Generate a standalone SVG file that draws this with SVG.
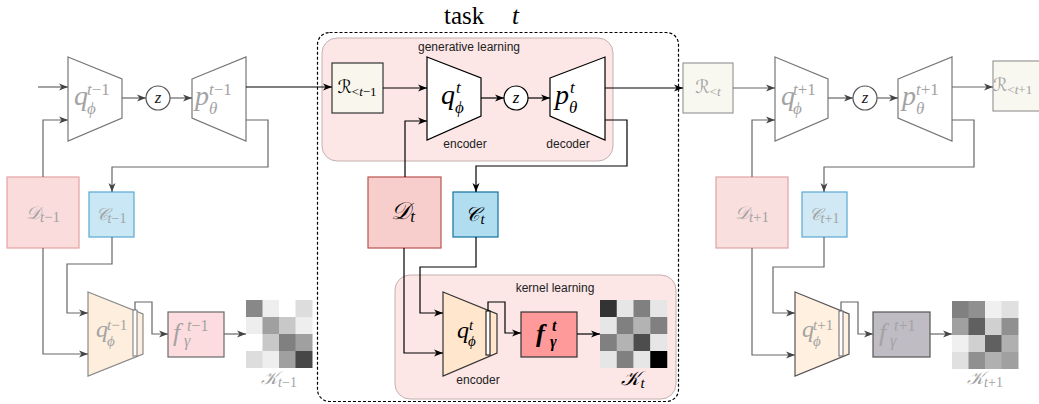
<svg xmlns="http://www.w3.org/2000/svg" width="1039" height="404" viewBox="0 0 1039 404">
<style>
.m{font-family:"Liberation Serif","DejaVu Serif","DejaVu Sans",serif;font-style:italic}
.r{font-family:"Liberation Serif","DejaVu Serif",serif;font-style:normal}
.lbl{font-family:"Liberation Sans",Arial,sans-serif;font-size:12px;fill:#222}
.fd{fill:#a3a3a3}
.bk{fill:#000}
.cb{fill:none;stroke:#000;stroke-width:1.2;marker-end:url(#ab)}
.cg{fill:none;stroke:#666;stroke-width:1.2;marker-end:url(#ag)}
.tw{fill:#fff;stroke:#000;stroke-width:1.2}
.tg{fill:#fff;stroke:#777;stroke-width:1.2}
</style>
<defs>
<marker id="ab" markerUnits="userSpaceOnUse" markerWidth="10" markerHeight="8" refX="9" refY="4" orient="auto"><path d="M0,0.5 L9,4 L0,7.5 L2.5,4 Z" fill="#000"/></marker>
<marker id="ag" markerUnits="userSpaceOnUse" markerWidth="10" markerHeight="8" refX="9" refY="4" orient="auto"><path d="M0,0.5 L9,4 L0,7.5 L2.5,4 Z" fill="#444"/></marker>
</defs>
<rect width="1039" height="404" fill="#fff"/>

<g id="task">
<rect x="317.5" y="32.5" width="361" height="369" rx="12" fill="none" stroke="#000" stroke-width="1.2" stroke-dasharray="3,2"/>
<text class="r" font-size="25"><tspan x="444" y="24">task</tspan><tspan x="512" y="24" class="m">t</tspan></text>
</g>
<g id="generative">
<rect x="322" y="38" width="291" height="123" rx="15" fill="#fce6e6" stroke="#c4b0b0" stroke-width="1"/>
<text x="469" y="51" class="lbl" text-anchor="middle">generative learning</text>
</g>
<g id="kernel">
<rect x="395" y="275" width="281" height="124" rx="15" fill="#fce6e6" stroke="#c4b0b0" stroke-width="1"/>
<text x="555" y="292" class="lbl" text-anchor="middle">kernel learning</text>
</g>

<!-- left faded -->
<g id="enc_l">
<polygon points="68,57 122,79 122,118 68,141" class="tg"/>
<text class="m fd" font-size="28"><tspan x="74" y="105">q</tspan><tspan x="87" y="95" font-size="17">t</tspan><tspan font-size="17" class="r">−1</tspan><tspan x="87" y="114" font-size="17">ϕ</tspan></text>
</g>
<g id="z_l"><circle cx="158" cy="98" r="12" fill="#fff" stroke="#555" stroke-width="1.2"/><text x="158" y="103" class="m" font-size="17" text-anchor="middle" fill="#222">z</text></g>
<g id="dec_l">
<polygon points="192,79 246,57 246,141 192,118" class="tg"/>
<text class="m fd" font-size="28"><tspan x="195" y="105">p</tspan><tspan x="209" y="95" font-size="17">t</tspan><tspan font-size="17" class="r">−1</tspan><tspan x="209" y="114" font-size="17">θ</tspan></text>
</g>
<g id="D_l">
<rect x="7" y="177" width="72" height="71" fill="#fadcdc" stroke="#e3a3a1" stroke-width="1.2"/>
<text x="43" y="219" class="m fd" font-size="18" text-anchor="middle">𝒟<tspan font-size="15" dy="3">t</tspan><tspan font-size="15" class="r">−1</tspan></text>
</g>
<g id="C_l">
<rect x="89" y="192" width="45" height="45" fill="#c9e7f5" stroke="#5aa9d2" stroke-width="1.2"/>
<text x="111" y="220" class="m fd" font-size="17" text-anchor="middle">𝒞<tspan font-size="14" dy="3">t</tspan><tspan font-size="14" class="r">−1</tspan></text>
</g>
<g id="kenc_l">
<polygon points="88,292 143,314 143,354 88,376" fill="#fdeedd" stroke="#8a8a8a" stroke-width="1.2"/>
<rect x="133" y="310" width="4" height="46" fill="#fff" stroke="#777" stroke-width="1"/>
<text class="m fd" font-size="24"><tspan x="96" y="337">q</tspan><tspan x="107" y="330" font-size="15">t</tspan><tspan font-size="15" class="r">−1</tspan><tspan x="107" y="346" font-size="15">ϕ</tspan></text>
</g>
<g id="f_l">
<rect x="168" y="312" width="56" height="45" fill="#fddcdf" stroke="#6a6a6a" stroke-width="1.2"/>
<text class="m fd" font-size="26"><tspan x="173" y="341">f</tspan><tspan x="187" y="331" font-size="16">t</tspan><tspan font-size="16" class="r">−1</tspan><tspan x="184" y="346" font-size="16">γ</tspan></text>
</g>
<g id="K_l">
<g transform="translate(246,300)">
<rect x="0" y="0" width="17" height="17" fill="#888"/><rect x="16.5" y="0" width="17" height="17" fill="#eee"/><rect x="33" y="0" width="17" height="17" fill="#fff"/><rect x="49.5" y="0" width="17" height="17" fill="#ddd"/>
<rect x="0" y="17" width="17" height="17" fill="#eee"/><rect x="16.5" y="17" width="17" height="17" fill="#a0a0a0"/><rect x="33" y="17" width="17" height="17" fill="#c8c8c8"/><rect x="49.5" y="17" width="17" height="17" fill="#eee"/>
<rect x="0" y="34" width="17" height="17" fill="#fff"/><rect x="16.5" y="34" width="17" height="17" fill="#c8c8c8"/><rect x="33" y="34" width="17" height="17" fill="#808080"/><rect x="49.5" y="34" width="17" height="17" fill="#a0a0a0"/>
<rect x="0" y="51" width="17" height="17" fill="#ddd"/><rect x="16.5" y="51" width="17" height="17" fill="#eee"/><rect x="33" y="51" width="17" height="17" fill="#a0a0a0"/><rect x="49.5" y="51" width="17" height="17" fill="#474747"/>
</g>
<text x="279" y="384" class="m fd" font-size="18" text-anchor="middle">𝒦<tspan font-size="14" dy="3">t</tspan><tspan font-size="14" class="r">−1</tspan></text>
</g>

<!-- center -->
<g id="R_prev">
<rect x="332" y="63" width="51" height="50" fill="#f9f7ed" stroke="#333" stroke-width="1.2"/>
<text x="357" y="93" class="m bk" font-size="18" text-anchor="middle">ℛ<tspan font-size="13" class="r" dy="3">&lt;</tspan><tspan font-size="13">t</tspan><tspan font-size="13" class="r">−1</tspan></text>
</g>
<g id="enc">
<polygon points="427,57 481,78 481,116 427,140" class="tw"/>
<text class="m bk" font-size="28"><tspan x="441" y="104">q</tspan><tspan x="456" y="93" font-size="17">t</tspan><tspan x="455" y="113" font-size="17">ϕ</tspan></text>
<text x="465" y="148" class="lbl" text-anchor="middle">encoder</text>
</g>
<g id="z"><circle cx="516" cy="98" r="12" fill="#fff" stroke="#000" stroke-width="1.2"/><text x="516" y="103" class="m" font-size="17" text-anchor="middle">z</text></g>
<g id="dec">
<polygon points="550,78 605,57 605,140 550,116" class="tw"/>
<text class="m bk" font-size="28"><tspan x="555" y="104">p</tspan><tspan x="570" y="93" font-size="17">t</tspan><tspan x="569" y="113" font-size="17">θ</tspan></text>
<text x="568" y="148" class="lbl" text-anchor="middle">decoder</text>
</g>
<g id="D">
<rect x="368" y="177" width="73" height="71" fill="#f8cecc" stroke="#b85450" stroke-width="1.2"/>
<text x="403" y="219" class="m bk" font-size="24" text-anchor="middle">𝒟<tspan font-size="17" dy="3">t</tspan></text>
</g>
<g id="C">
<rect x="453" y="192" width="45" height="45" fill="#b1ddf0" stroke="#10739e" stroke-width="1.2"/>
<text x="475" y="221" class="m bk" font-size="20" text-anchor="middle">𝒞<tspan font-size="15" dy="3">t</tspan></text>
</g>
<g id="kenc">
<polygon points="443,292 497,314 497,353 443,376" fill="#ffe6cc" stroke="#333" stroke-width="1.2"/>
<rect x="486" y="311" width="4" height="44" fill="#fff" stroke="#000" stroke-width="1"/>
<text class="m bk" font-size="24"><tspan x="457" y="338">q</tspan><tspan x="469" y="330" font-size="15">t</tspan><tspan x="468" y="346" font-size="15">ϕ</tspan></text>
<text x="478" y="384" class="lbl" text-anchor="middle">encoder</text>
</g>
<g id="f">
<rect x="521" y="312" width="56" height="45" fill="#ff9a9a" stroke="#333" stroke-width="1.2"/>
<text class="m bk" font-size="26" font-weight="bold"><tspan x="536" y="342">f</tspan><tspan x="552" y="331" font-size="16">t</tspan><tspan x="550" y="347" font-size="16">γ</tspan></text>
</g>
<g id="K">
<g transform="translate(600,300)">
<rect x="0" y="0" width="17" height="17" fill="#333"/><rect x="16.75" y="0" width="17" height="17" fill="#e6e6e6"/><rect x="33.5" y="0" width="17" height="17" fill="#808080"/><rect x="50.25" y="0" width="17" height="17" fill="#e6e6e6"/>
<rect x="0" y="17" width="17" height="17" fill="#e6e6e6"/><rect x="16.75" y="17" width="17" height="17" fill="#808080"/><rect x="33.5" y="17" width="17" height="17" fill="#b3b3b3"/><rect x="50.25" y="17" width="17" height="17" fill="#808080"/>
<rect x="0" y="34" width="17" height="17" fill="#808080"/><rect x="16.75" y="34" width="17" height="17" fill="#b3b3b3"/><rect x="33.5" y="34" width="17" height="17" fill="#4d4d4d"/><rect x="50.25" y="34" width="17" height="17" fill="#e6e6e6"/>
<rect x="0" y="51" width="17" height="17" fill="#e6e6e6"/><rect x="16.75" y="51" width="17" height="17" fill="#808080"/><rect x="33.5" y="51" width="17" height="17" fill="#e6e6e6"/><rect x="50.25" y="51" width="17" height="17" fill="#000"/>
</g>
<text x="633" y="385" class="m bk" font-size="20" text-anchor="middle">𝒦<tspan font-size="15" dy="3">t</tspan></text>
</g>

<!-- right faded -->
<g id="R_cur">
<rect x="683" y="63" width="50" height="50" fill="#f8f7f0" stroke="#999" stroke-width="1.2"/>
<text x="708" y="93" class="m fd" font-size="18" text-anchor="middle">ℛ<tspan font-size="13" class="r" dy="3">&lt;</tspan><tspan font-size="13">t</tspan></text>
</g>
<g id="enc_r">
<polygon points="775,57 828,79 828,118 775,141" class="tg"/>
<text class="m fd" font-size="28"><tspan x="781" y="105">q</tspan><tspan x="793" y="95" font-size="17">t</tspan><tspan font-size="17" class="r">+1</tspan><tspan x="793" y="114" font-size="17">ϕ</tspan></text>
</g>
<g id="z_r"><circle cx="865" cy="98" r="12" fill="#fff" stroke="#555" stroke-width="1.2"/><text x="865" y="103" class="m" font-size="17" text-anchor="middle" fill="#222">z</text></g>
<g id="dec_r">
<polygon points="898,79 952,57 952,141 898,118" class="tg"/>
<text class="m fd" font-size="28"><tspan x="902" y="105">p</tspan><tspan x="916" y="95" font-size="17">t</tspan><tspan font-size="17" class="r">+1</tspan><tspan x="916" y="114" font-size="17">θ</tspan></text>
</g>
<g id="R_next">
<rect x="993" y="61" width="52" height="50" fill="#f8f7f0" stroke="#999" stroke-width="1.2"/>
<text x="993" y="91" class="m fd" font-size="18">ℛ<tspan font-size="13" class="r" dy="3">&lt;</tspan><tspan font-size="13">t</tspan><tspan font-size="13" class="r">+1</tspan></text>
</g>
<g id="D_r">
<rect x="716" y="177" width="72" height="71" fill="#fadfdf" stroke="#e0a3a3" stroke-width="1.2"/>
<text x="752" y="219" class="m fd" font-size="18" text-anchor="middle">𝒟<tspan font-size="15" dy="3">t</tspan><tspan font-size="15" class="r">+1</tspan></text>
</g>
<g id="C_r">
<rect x="802" y="192" width="45" height="45" fill="#d0e9f4" stroke="#5aa8d2" stroke-width="1.2"/>
<text x="824" y="220" class="m fd" font-size="17" text-anchor="middle">𝒞<tspan font-size="14" dy="3">t</tspan><tspan font-size="14" class="r">+1</tspan></text>
</g>
<g id="kenc_r">
<polygon points="795,292 849,314 849,354 795,376" fill="#fff0e0" stroke="#555" stroke-width="1.2"/>
<rect x="839" y="311" width="4" height="45" fill="#fff" stroke="#666" stroke-width="1"/>
<text class="m fd" font-size="24"><tspan x="802" y="337">q</tspan><tspan x="813" y="330" font-size="15">t</tspan><tspan font-size="15" class="r">+1</tspan><tspan x="813" y="346" font-size="15">ϕ</tspan></text>
</g>
<g id="f_r">
<rect x="873" y="312" width="57" height="45" fill="#c0bcc4" stroke="#555" stroke-width="1.2"/>
<text class="m fd" font-size="26"><tspan x="879" y="341">f</tspan><tspan x="894" y="331" font-size="16">t</tspan><tspan font-size="16" class="r">+1</tspan><tspan x="890" y="346" font-size="16">γ</tspan></text>
</g>
<g id="K_r">
<g transform="translate(952,301)">
<rect x="0" y="0" width="17" height="17" fill="#808080"/><rect x="16.5" y="0" width="17" height="17" fill="#909090"/><rect x="33" y="0" width="17" height="17" fill="#f0f0f0"/><rect x="49.5" y="0" width="17" height="17" fill="#e0e0e0"/>
<rect x="0" y="17" width="17" height="17" fill="#a0a0a0"/><rect x="16.5" y="17" width="17" height="17" fill="#606060"/><rect x="33" y="17" width="17" height="17" fill="#d0d0d0"/><rect x="49.5" y="17" width="17" height="17" fill="#909090"/>
<rect x="0" y="34" width="17" height="17" fill="#f0f0f0"/><rect x="16.5" y="34" width="17" height="17" fill="#d0d0d0"/><rect x="33" y="34" width="17" height="17" fill="#606060"/><rect x="49.5" y="34" width="17" height="17" fill="#b0b0b0"/>
<rect x="0" y="51" width="17" height="17" fill="#e0e0e0"/><rect x="16.5" y="51" width="17" height="17" fill="#909090"/><rect x="33" y="51" width="17" height="17" fill="#b0b0b0"/><rect x="49.5" y="51" width="17" height="17" fill="#a0a0a0"/>
</g>
<text x="985" y="384" class="m fd" font-size="18" text-anchor="middle">𝒦<tspan font-size="14" dy="3">t</tspan><tspan font-size="14" class="r">+1</tspan></text>
</g>

<g id="connectors">
<path d="M38,87 H68" class="cg" stroke="#333"/>
<path d="M122,98 H146" class="cg"/>
<path d="M170,98 H192" class="cg"/>
<path d="M43,177 V120 H68" class="cg"/>
<path d="M246,120 H268 V167 H112 V192" class="cg"/>
<path d="M112,237 V264 H67 V313 H88" class="cg"/>
<path d="M43,248 V354 H88" class="cg"/>
<path d="M135,310 V302 H152 V334 H168" class="cg"/>
<path d="M224,334 H246" class="cg"/>
<path d="M246,87 H332" class="cb"/>
<path d="M383,88 H427" class="cb"/>
<path d="M481,98 H504" class="cb"/>
<path d="M528,98 H550" class="cb"/>
<path d="M405,177 V121 H427" class="cb"/>
<path d="M605,120 H627 V166 H476 V192" class="cb"/>
<path d="M476,237 V267 H420 V313 H443" class="cb"/>
<path d="M404,248 V353 H443" class="cb"/>
<path d="M488,311 V302 H505 V333 H521" class="cb"/>
<path d="M577,334 H600" class="cb"/>
<path d="M605,88 H683" class="cb"/>
<path d="M733,88 H775" class="cg"/>
<path d="M828,98 H853" class="cg"/>
<path d="M877,98 H898" class="cg"/>
<path d="M752,177 V120 H775" class="cg"/>
<path d="M952,120 H974 V167 H824 V192" class="cg"/>
<path d="M824,237 V267 H773 V313 H795" class="cg"/>
<path d="M752,248 V355 H795" class="cg"/>
<path d="M841,311 V302 H858 V334 H873" class="cg"/>
<path d="M930,334 H952" class="cg"/>
<path d="M952,87 H993" class="cg"/>
</g>
</svg>
